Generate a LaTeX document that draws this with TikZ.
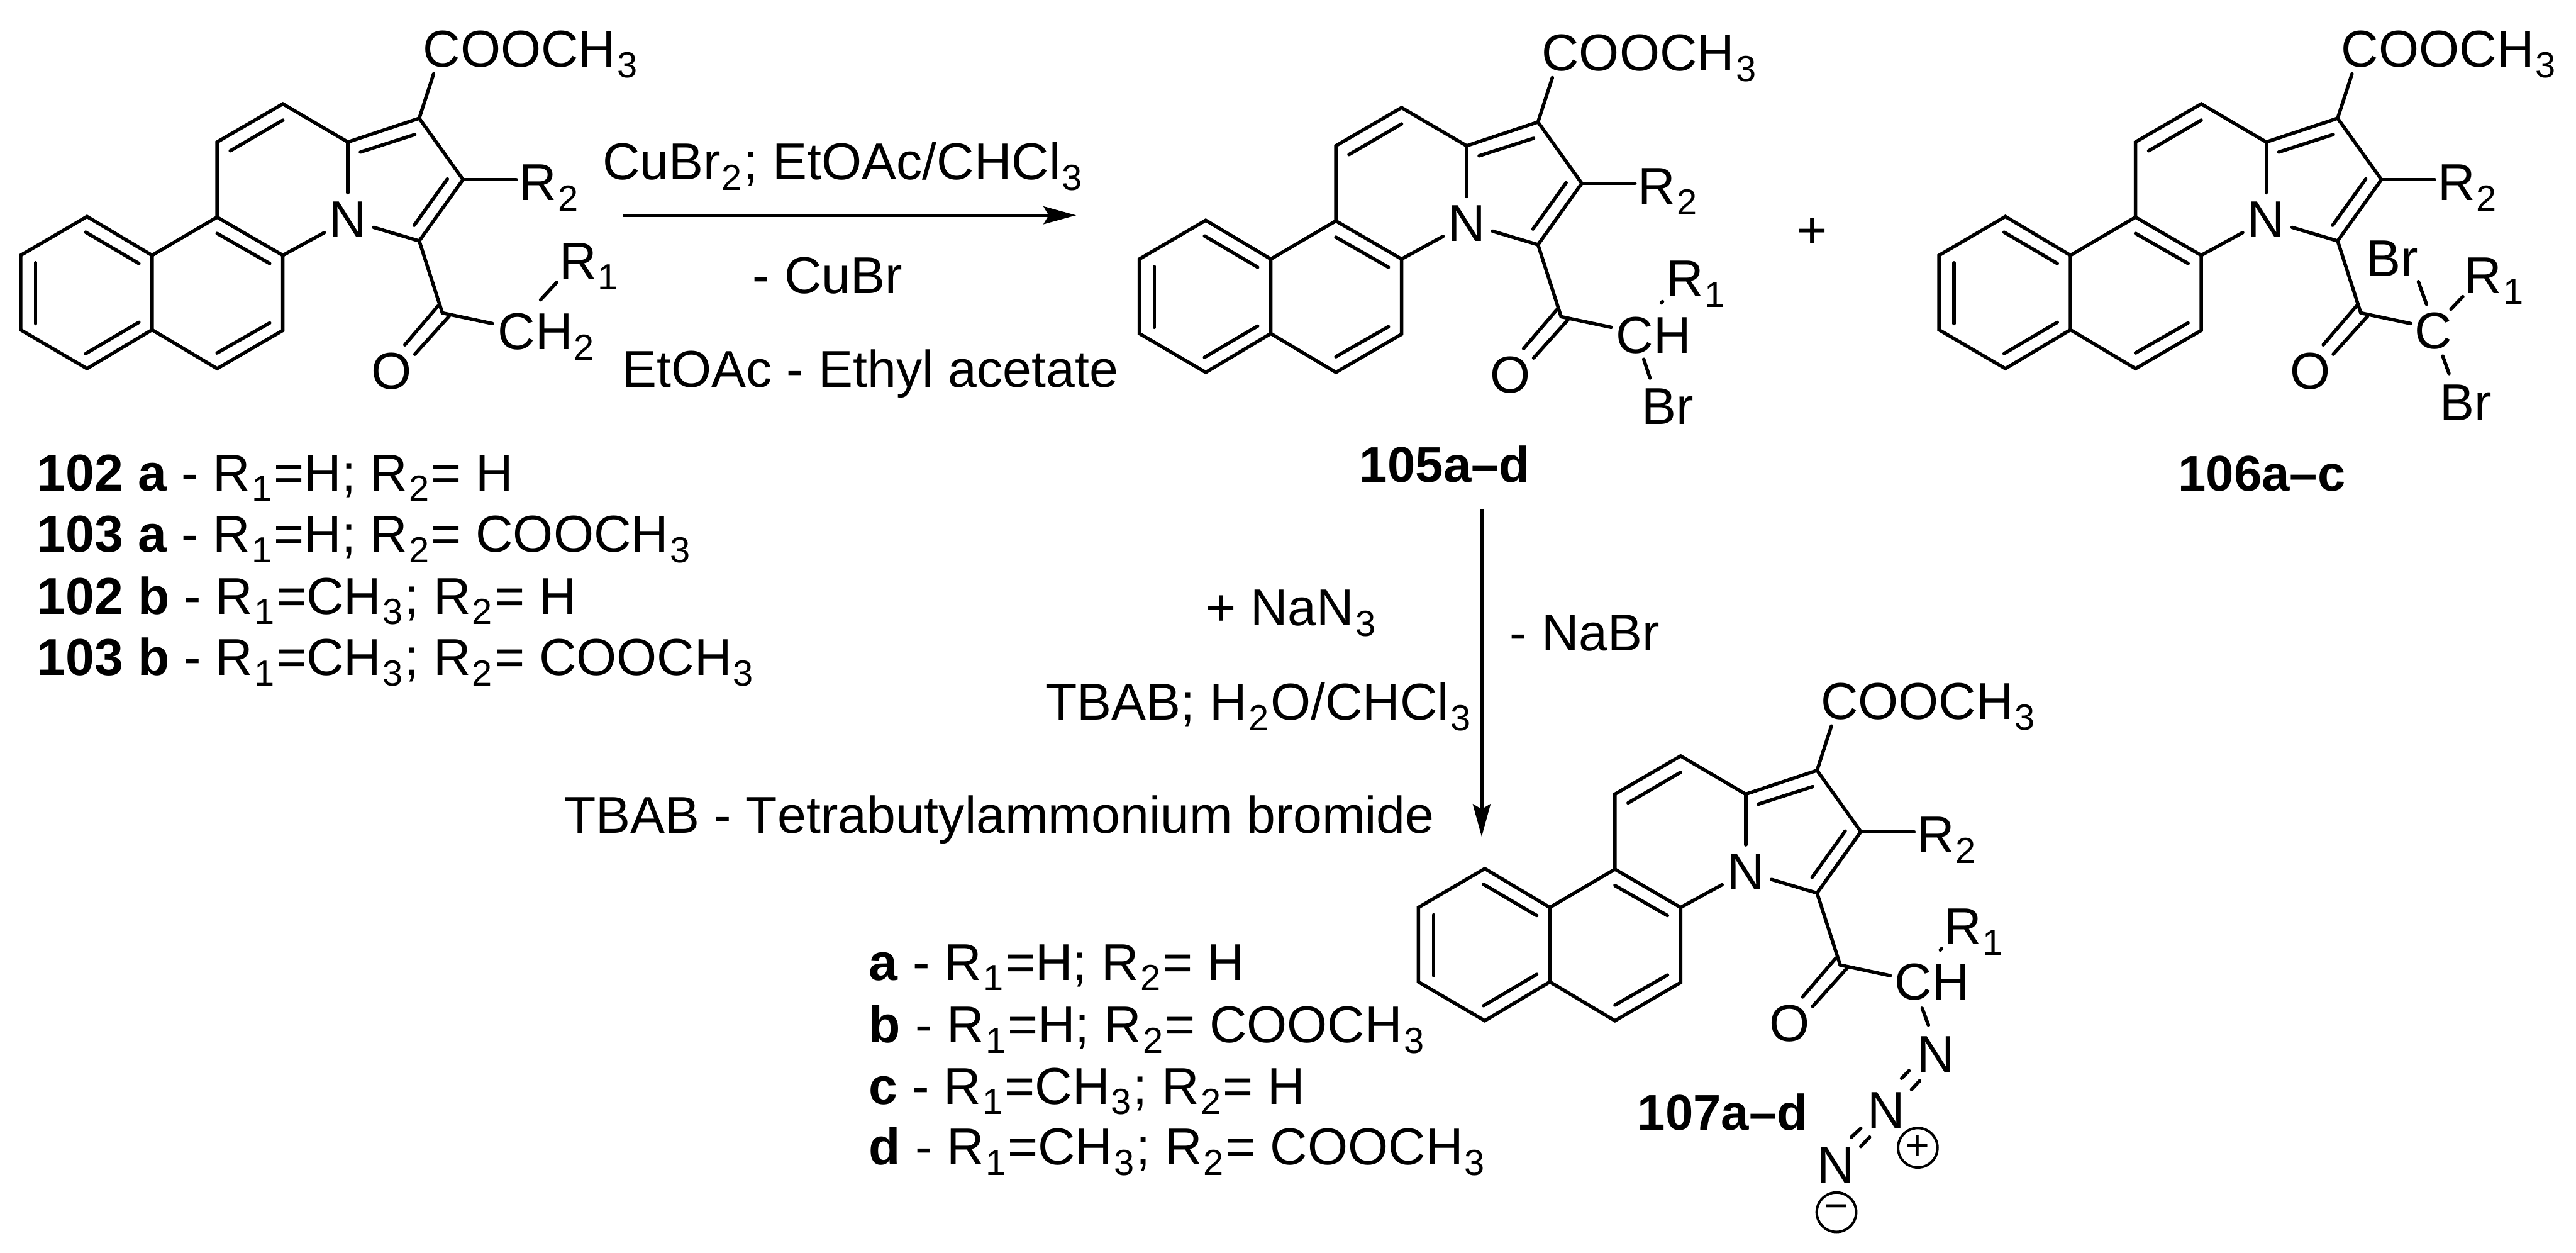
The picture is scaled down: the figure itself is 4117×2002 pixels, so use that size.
\documentclass[tikz,border=0pt]{standalone}
\usepackage{fontspec}
\setmainfont{Liberation Sans}[Kerning=Off]
\usetikzlibrary{arrows.meta}
\newcommand{\sbs}[1]{\kern.02cm\raisebox{-.17cm}{\fontsize{16.5}{17}\selectfont #1}\kern.03cm}
\newcommand{\bondat}[5]{\coordinate (#1a) at (#2,#3); \coordinate (#1b) at (#4,#5); \draw[bondln] (#1a) -- (#1b);}
\tikzset{
  x=0.01cm,y=-0.01cm,
  bondln/.style={line width=.055cm,line cap=round,line join=miter},
  rxnarrow/.style={line width=.055cm,-{Stealth[length=.52cm,width=.28cm,inset=.08cm]}},
  lab/.style={anchor=base west,inner sep=0pt,outer sep=0pt,font=\fontsize{23.56}{28}\selectfont},
  molcap/.style={lab,anchor=base,font=\fontsize{22.8}{28}\selectfont\bfseries},
  atomn/.style={circle,inner sep=0pt,outer sep=0pt,minimum size=.86cm,font=\fontsize{23.56}{28}\selectfont},
  chg/.style={circle,draw,line width=.04cm,inner sep=0pt,minimum size=.63cm,font=\fontsize{19}{19}\selectfont},
  core/.pic={
    \coordinate (A) at (139,346); \coordinate (B) at (243,408); \coordinate (C) at (243,527);
    \coordinate (D) at (139,589); \coordinate (E) at (33,527); \coordinate (F) at (33,408);
    \coordinate (G) at (347,347); \coordinate (H) at (452,408); \coordinate (I) at (452,528);
    \coordinate (J) at (347,589); \coordinate (K) at (347,227); \coordinate (L) at (452,166);
    \coordinate (M) at (556,227); \coordinate (P) at (670,189); \coordinate (Q) at (740,287);
    \coordinate (S) at (670,385); \coordinate (T) at (707,500);
    \node[atomn] (N) at (556,351) {N};
    \draw[bondln] (A) -- (B) -- (C) -- (D) -- (E) -- (F) -- cycle;
    \draw[bondln] (B) -- (G) -- (H) -- (I) -- (J) -- (C);
    \draw[bondln] (G) -- (K) -- (L) -- (M) -- (P) -- (Q) -- (S) -- (T);
    \draw[bondln] (M) -- (N);
    \draw[bondln] (H) -- (N);
    \draw[bondln] (S) -- (N);
    \bondat{i1}{137}{371}{222}{421}
    \bondat{i2}{57}{420}{57}{517}
    \bondat{i3}{137}{565}{222}{515}
    \bondat{i4}{347}{373}{431}{421}
    \bondat{i5}{347}{564}{431}{516}
    \bondat{i6}{368}{241}{452}{192}
    \bondat{i7}{576}{243}{663}{215}
    \bondat{i8}{662}{360}{715}{286}
    \bondat{co1}{700}{489}{647}{551}
    \bondat{co2}{718}{505}{663}{566}
    \coordinate (Te) at (787,517);
    \draw[bondln] (T) -- (Te);
    \coordinate (Ce) at (693,118);
    \draw[bondln] (P) -- (Ce);
    \coordinate (Re) at (825,287);
    \draw[bondln] (Q) -- (Re);
    \node[lab] (est) at (676,107) {COOCH\sbs{3}};
    \node[lab] (rtwo) at (830,320) {R\sbs{2}};
    \node[atomn] (O) at (626,593) {O};
  }
}
\begin{document}
\begin{tikzpicture}
\useasboundingbox[fill=white] (0,0) rectangle (4117,2002);
% molecule 102/103
\pic (ma) at (0,0) {core};
\node[lab] (mach) at (796,558) {CH\sbs{2}};
\node[lab] (mar) at (894,446) {R\sbs{1}};
\bondat{mabr}{864}{479}{890}{451}
% molecule 105
\pic (mb) at (1788,6) {core};
\node[lab] (mbch) at (2583,564) {CH};
\node[lab] (mbr) at (2663,474) {R\sbs{1}};
\bondat{mbdot}{2655}{484}{2657}{482}
\node[lab] (mbbr) at (2624,678) {Br};
\bondat{mbb}{2627}{574}{2637}{604}
\node[molcap] (mbcap) at (2309,770) {105a–d};
% molecule 106
\pic (mc) at (3066,0) {core};
\node[lab] (mcc) at (3859,557) {C};
\node[lab] (mcbt) at (3782,442) {Br};
\node[lab] (mcr) at (3939,469) {R\sbs{1}};
\node[lab] (mcbb) at (3899,672) {Br};
\bondat{mcb1}{3865}{450}{3878}{486}
\bondat{mcb2}{3917}{494}{3936}{474}
\bondat{mcb3}{3904}{569}{3914}{597}
\node[molcap] (mccap) at (3615,784) {106a–c};
% molecule 107
\pic (md) at (2234,1042) {core};
\node[lab] (mdch) at (3028,1598) {CH};
\node[lab] (mdr) at (3107,1509) {R\sbs{1}};
\bondat{mddot}{3101}{1518}{3103}{1516}
\bondat{mdb}{3072}{1611}{3082}{1638}
\node[atomn,minimum size=.6cm] (mdn1) at (3094,1685) {N};
\bondat{mdd1}{3039}{1723}{3051}{1711}
\bondat{mdd2}{3055}{1741}{3068}{1727}
\node[atomn,minimum size=.6cm] (mdn2) at (3015,1774) {N};
\bondat{mdd3}{2959}{1817}{2974}{1803}
\bondat{mdd4}{2974}{1832}{2988}{1817}
\node[atomn,minimum size=.6cm] (mdn3) at (2934,1862) {N};
\node[chg] (mdp) at (3065,1834) {+};
\node[chg] (mdm) at (2935,1937) {−};
\node[molcap] (mdcap) at (2753,1806) {107a–d};
% plus sign
\node[lab,anchor=center] (plus) at (2896,373) {+};
% arrows
\coordinate (a1s) at (996,344); \coordinate (a1e) at (1720,344);
\draw[rxnarrow] (a1s) -- (a1e);
\coordinate (a2s) at (2368,813); \coordinate (a2e) at (2368,1337);
\draw[rxnarrow] (a2s) -- (a2e);
% reagent text
\node[lab] (t1) at (963,287) {CuBr\sbs{2}; EtOAc/CHCl\sbs{3}};
\node[lab] (t2) at (1203,469) {- CuBr};
\node[lab] (t3) at (995,619) {EtOAc - Ethyl acetate};
\node[lab] (t4) at (1927,1000) {+ NaN\sbs{3}};
\node[lab] (t5) at (2413,1040) {- NaBr};
\node[lab] (t6) at (1671,1150) {TBAB; H\sbs{2}O/CHCl\sbs{3}};
\node[lab] (t7) at (902,1331) {TBAB - Tetrabutylammonium bromide};
% legends
\node[lab] (l1) at (59,784) {\textbf{102 a} - R\sbs{1}=H; R\sbs{2}= H};
\node[lab] (l2) at (59,882) {\textbf{103 a} - R\sbs{1}=H; R\sbs{2}= COOCH\sbs{3}};
\node[lab] (l3) at (59,981) {\textbf{102 b} - R\sbs{1}=CH\sbs{3}; R\sbs{2}= H};
\node[lab] (l4) at (59,1079) {\textbf{103 b} - R\sbs{1}=CH\sbs{3}; R\sbs{2}= COOCH\sbs{3}};
\node[lab] (k1) at (1389,1566) {\textbf{a} - R\sbs{1}=H; R\sbs{2}= H};
\node[lab] (k2) at (1389,1666) {\textbf{b} - R\sbs{1}=H; R\sbs{2}= COOCH\sbs{3}};
\node[lab] (k3) at (1389,1764) {\textbf{c} - R\sbs{1}=CH\sbs{3}; R\sbs{2}= H};
\node[lab] (k4) at (1389,1861) {\textbf{d} - R\sbs{1}=CH\sbs{3}; R\sbs{2}= COOCH\sbs{3}};
\end{tikzpicture}
\end{document}
